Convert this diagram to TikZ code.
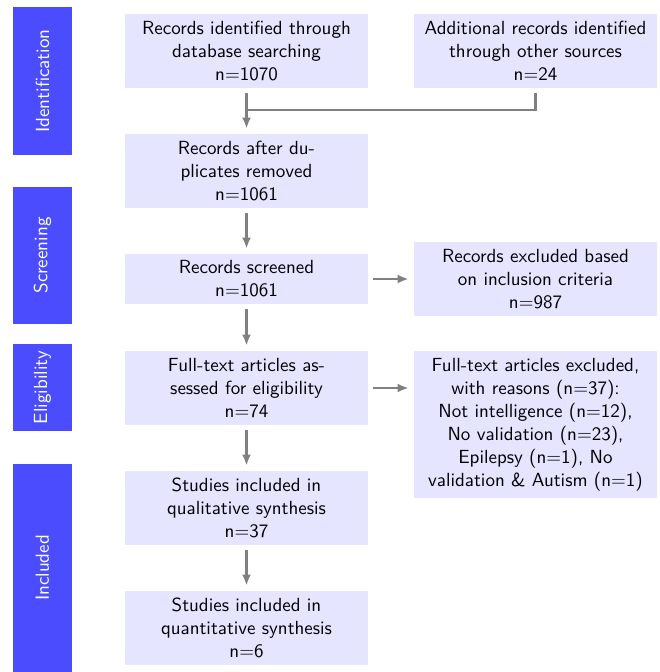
\documentclass[tikz,border=0pt]{standalone}
\usetikzlibrary{arrows.meta}
\begin{document}
\begin{tikzpicture}[x=0.5pt,y=-0.5pt,
  txt/.style={font=\sffamily\fontsize{9.5}{11.5}\selectfont},
  box/.style={txt, fill=blue!10, minimum width=121.5pt, minimum height=37pt, align=center, inner sep=0pt},
  bar/.style={txt, fill=blue!70, text=white, rotate=90, inner sep=0pt, minimum height=29.5pt},
  arr/.style={draw=gray, line width=1.3pt, -{Latex[length=5.5pt,width=4.5pt]}, shorten <=2.5pt, shorten >=2.5pt},
  ln/.style={draw=gray, line width=1.3pt}]
\useasboundingbox (0,0) rectangle (659,672);
% phase bars
\node[bar, minimum width=74pt] (pid) at (42.5,81) {Identification};
\node[bar, minimum width=68.5pt] (psc) at (42.5,255.5) {Screening};
\node[bar, minimum width=43.5pt] (pel) at (42.5,387.5) {Eligibility};
\node[bar, minimum width=104pt] (pin) at (42.5,568) {Included};
% main column
\node[box] (db) at (246.5,51) {Records identified through\\database searching\\n=1070};
\node[box] (add) at (535.5,51) {Additional records identified\\through other sources\\n=24};
\node[box] (dup) at (246.5,171) {Records after du-\\plicates removed\\n=1061};
\node[box, minimum height=25pt] (scr) at (246.5,279) {Records screened\\n=1061};
\node[box] (ex1) at (535.5,279) {Records excluded based\\on inclusion criteria\\n=987};
\node[box] (ft) at (246.5,388) {Full-text articles as-\\sessed for eligibility\\n=74};
\node[box, minimum height=73.5pt] (ex2) at (535.5,424.5) {Full-text articles excluded,\\with reasons (n=37):\\Not intelligence (n=12),\\No validation (n=23),\\Epilepsy (n=1), No\\validation \& Autism (n=1)};
\node[box] (qual) at (246.5,508) {Studies included in\\qualitative synthesis\\n=37};
\node[box] (quant) at (246.5,628) {Studies included in\\quantitative synthesis\\n=6};
% connectors
\coordinate (m) at (246.5,110);
\draw[ln, shorten <=2.5pt] (add.south) |- (m);
\draw[arr] (db) -- (dup);
\draw[arr] (dup) -- (scr);
\draw[arr] (scr) -- (ft);
\draw[arr] (ft) -- (qual);
\draw[arr] (qual) -- (quant);
\draw[arr] (scr.east) -- (scr.east -| ex1.west);
\draw[arr] (ft.east) -- (ft.east -| ex2.west);
\end{tikzpicture}
\end{document}
